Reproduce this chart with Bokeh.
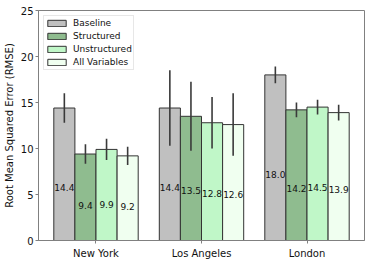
from bokeh.plotting import figure
from bokeh.models import Range1d, FixedTicker, Legend, LegendItem, ColumnDataSource
from bokeh.embed import file_html
from bokeh.resources import INLINE

cities = ["New York", "Los Angeles", "London"]
series = ["Baseline", "Structured", "Unstructured", "All Variables"]
baseline = [14.4, 14.4, 18.0]
structured = [9.4, 13.5, 14.2]
unstructured = [9.9, 12.8, 14.5]
all_vars = [9.2, 12.6, 13.9]
baseline_err = [1.6, 4.1, 0.9]
structured_err = [1.05, 3.75, 0.8]
unstructured_err = [1.15, 2.8, 0.8]
all_vars_err = [1.0, 3.4, 0.85]
y_ticks = [0, 5, 10, 15, 20, 25]

values = [baseline, structured, unstructured, all_vars]
errors = [baseline_err, structured_err, unstructured_err, all_vars_err]
colors = ["#c0c0c0", "#8fbc8f", "#c0f7c8", "#f0fff0"]
offsets = [-0.3, -0.1, 0.1, 0.3]
width = 0.2
FONT = "DejaVu Sans"

p = figure(width=368, height=261, output_backend="svg", toolbar_location=None,
           x_range=Range1d(-0.545, 2.545), y_range=Range1d(0, 25),
           min_border_left=35, min_border_right=4, min_border_top=10, min_border_bottom=20)
p.xgrid.visible = False
p.ygrid.visible = False
p.outline_line_color = "#808080"
p.outline_line_width = 1
p.background_fill_color = "white"

items = []
for vals, errs, col, off, name in zip(values, errors, colors, offsets, series):
    xs = [i + off for i in range(len(cities))]
    src = ColumnDataSource(dict(
        x=xs, top=vals,
        lo=[v - e for v, e in zip(vals, errs)],
        hi=[v + e for v, e in zip(vals, errs)],
        ty=[0.4 * v for v in vals],
        lab=["%.1f" % v for v in vals],
    ))
    r = p.vbar(x="x", top="top", width=width, bottom=0, source=src,
               fill_color=col, line_color="#333333", line_width=1)
    items.append(LegendItem(label=name, renderers=[r]))
    p.segment(x0="x", y0="lo", x1="x", y1="hi", source=src,
              line_color="#3a3a3a", line_width=1.6)
    p.text(x="x", y="ty", text="lab", source=src, text_align="center",
           text_baseline="alphabetic", text_font_size="9px", text_color="#111111",
           text_font={"value": FONT})

legend = Legend(items=items, location="top_left")
legend.label_text_font = FONT
legend.label_text_font_size = "9px"
legend.label_text_color = "#111111"
legend.glyph_width = 23
legend.glyph_height = 8
legend.label_height = 12
legend.spacing = 1
legend.padding = 1
legend.margin = 5
legend.label_standoff = 5
legend.border_line_color = "#d0d0d0"
legend.border_line_width = 1
legend.background_fill_alpha = 0.85
p.add_layout(legend)

xa = p.xaxis[0]
xa.ticker = FixedTicker(ticks=[0, 1, 2])
xa.major_label_overrides = {0: cities[0], 1: cities[1], 2: cities[2]}
ya = p.yaxis[0]
ya.ticker = FixedTicker(ticks=y_ticks)
ya.axis_label = "Root Mean Squared Error (RMSE)"
ya.axis_label_text_font = FONT
ya.axis_label_text_font_size = "10px"
ya.axis_label_text_font_style = "normal"
ya.axis_label_text_color = "#111111"
ya.axis_label_standoff = 3
for ax in (xa, ya):
    ax.axis_line_color = "#808080"
    ax.major_tick_line_color = "#808080"
    ax.major_tick_out = 3
    ax.major_tick_in = 0
    ax.minor_tick_line_color = None
    ax.major_label_text_font = FONT
    ax.major_label_text_font_size = "10px"
    ax.major_label_text_color = "#111111"
    ax.major_label_standoff = 2
xa.major_label_standoff = 4

open("out.html", "w").write(file_html(p, INLINE))
